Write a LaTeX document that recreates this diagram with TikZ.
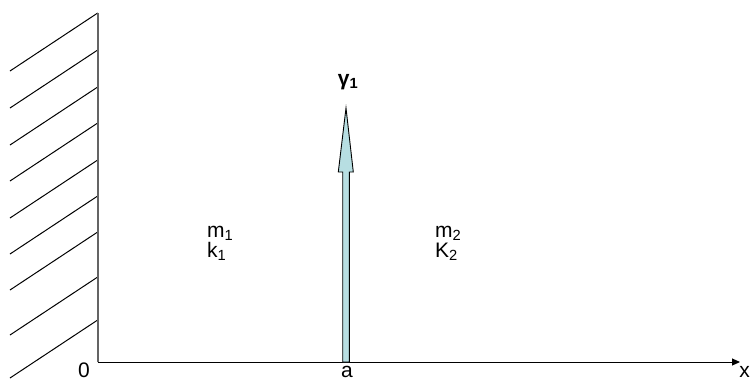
\documentclass[tikz,border=0pt]{standalone}
\usepackage{fontspec}
\setmainfont{Liberation Sans}
\usetikzlibrary{arrows.meta}
\definecolor{pulse}{RGB}{183,222,226}
\definecolor{wallgray}{RGB}{100,100,100}
\tikzset{
  lbl/.style={inner sep=0pt, font=\fontsize{21}{24}\selectfont},
  axlbl/.style={lbl, anchor=base},
  hatch/.style={line width=1pt, black},
}
\begin{document}
\begin{tikzpicture}[x=1pt,y=-1pt]
\useasboundingbox (0,0) rectangle (751,383);
% key points
\coordinate (wtop) at (97.7,13);
\coordinate (O) at (97.7,362);
\coordinate (xend) at (740,362);
% hatching
\foreach \yy in {13,50,87,123,160,196,232,277,320}{
  \draw[hatch] (97.7,\yy) -- (10,\yy+58);
}
% wall
\draw[line width=1.6pt, wallgray] (wtop) -- (O);
% axis
\draw[line width=1pt, -{Triangle[length=8pt,width=7pt]}] (O) -- (xend);
% pulse arrow
\draw[fill=pulse, line width=0.9pt, line join=miter]
  (342.7,362) -- (342.7,172) -- (338.3,172) -- (346,108) -- (353.3,172)
  -- (349.3,172) -- (349.3,362) -- cycle;
% labels
\node[lbl] (g) at (348,82) {\bfseries γ\textsubscript{1}};
\node[lbl, anchor=base west] (m1) at (207,237) {m\textsubscript{1}};
\node[lbl, anchor=base west] (k1) at (207,257) {k\textsubscript{1}};
\node[lbl, anchor=base west] (m2) at (435,237) {m\textsubscript{2}};
\node[lbl, anchor=base west] (k2) at (435,257) {K\textsubscript{2}};
\node[axlbl] (zero) at (84,377.5) {0};
\node[axlbl] (a) at (347,377.5) {a};
\node[axlbl, anchor=base east] (x) at (750,377.5) {x};
\end{tikzpicture}
\end{document}
